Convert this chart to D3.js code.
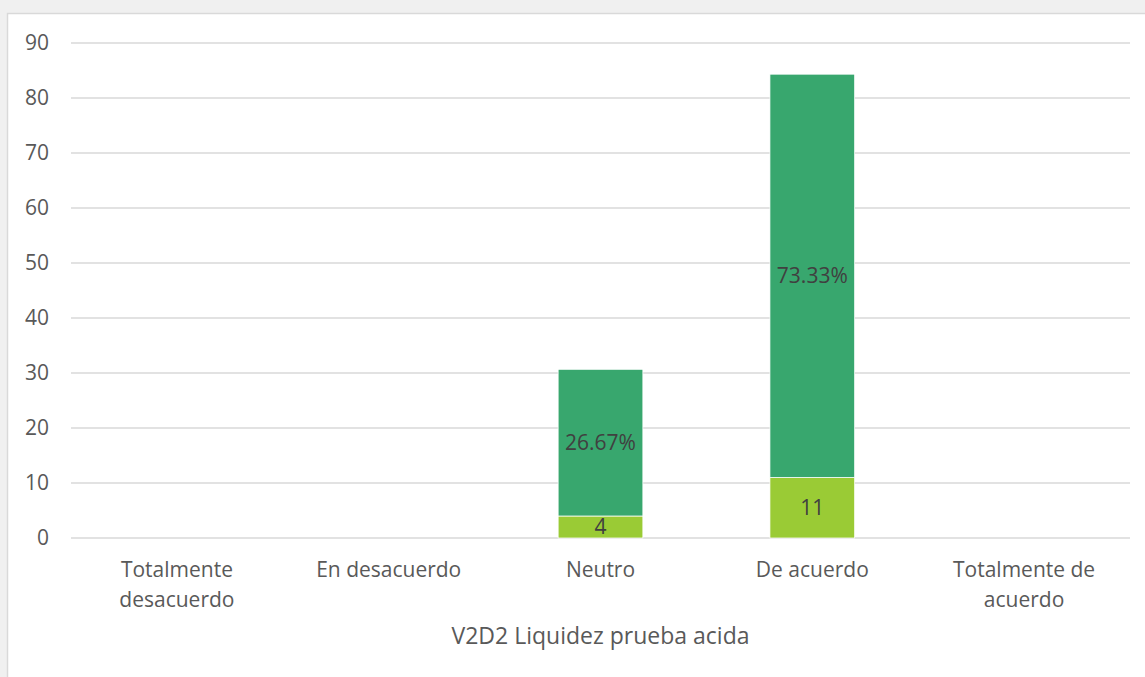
<!DOCTYPE html>
<html><head><meta charset="utf-8">
<script src="https://cdn.jsdelivr.net/npm/d3@7"></script>
<style>
html,body{margin:0;padding:0;background:#f0f0f0;}
svg{display:block;}
text{font-family:"Open Sans","Noto Sans",sans-serif;}
</style></head>
<body>
<script>
const categories = ["Totalmente desacuerdo","En desacuerdo","Neutro","De acuerdo","Totalmente de acuerdo"];
const countValues = [0, 0, 4, 11, 0];
const percentValues = [0, 0, 26.67, 73.33, 0];
const yTicks = [0,10,20,30,40,50,60,70,80,90];
const axisTitle = "V2D2 Liquidez prueba acida";

const W = 1145, H = 677;
const svg = d3.select("body").append("svg").attr("width", W).attr("height", H);
svg.append("rect").attr("x", 0).attr("y", 0).attr("width", W).attr("height", H).attr("fill", "#f0f0f0");
svg.append("rect").attr("x", 7.5).attr("y", 13.5).attr("width", W).attr("height", H)
  .attr("fill", "#ffffff").attr("stroke", "#d9d9d9").attr("stroke-width", 1.5);

const x = d3.scaleBand().domain(categories).range([71, 1130]).paddingInner(0.6).paddingOuter(0.3);
const y = d3.scaleLinear().domain([0, 90]).range([538, 43]);

// gridlines
svg.append("g").selectAll("line").data(yTicks).join("line")
  .attr("x1", 71).attr("x2", 1130)
  .attr("y1", d => y(d)).attr("y2", d => y(d))
  .attr("stroke", "#d9d9d9").attr("stroke-width", 1.5);

// y tick labels
svg.append("g").selectAll("text").data(yTicks).join("text")
  .attr("x", 49).attr("y", d => y(d)).attr("dy", "0.35em")
  .attr("text-anchor", "end").attr("font-size", 21).attr("fill", "#595959")
  .text(d => d);

const rows = categories.map((c, i) => ({cat: c, count: countValues[i], pct: percentValues[i]}));
const stack = d3.stack().keys(["count", "pct"])(rows);
const colors = {count: "#9acb35", pct: "#38a76e"};

stack.forEach(layer => {
  const g = svg.append("g");
  g.selectAll("rect").data(layer.filter(d => d[1] - d[0] > 0)).join("rect")
    .attr("x", d => x(d.data.cat))
    .attr("width", x.bandwidth())
    .attr("y", d => y(d[1]))
    .attr("height", d => y(d[0]) - y(d[1]))
    .attr("fill", colors[layer.key])
    .attr("stroke", "#ffffff").attr("stroke-width", 0.75);
  g.selectAll("text").data(layer.filter(d => d[1] - d[0] > 0)).join("text")
    .attr("x", d => x(d.data.cat) + x.bandwidth() / 2)
    .attr("y", d => (y(d[0]) + y(d[1])) / 2)
    .attr("dy", "0.35em").attr("text-anchor", "middle")
    .attr("font-size", 21).attr("fill", "#404040")
    .text(d => layer.key === "pct" ? d.data.pct.toFixed(2) + "%" : d.data.count);
});

// category labels (wrapped)
const wraps = {
  "Totalmente desacuerdo": ["Totalmente", "desacuerdo"],
  "En desacuerdo": ["En desacuerdo"],
  "Neutro": ["Neutro"],
  "De acuerdo": ["De acuerdo"],
  "Totalmente de acuerdo": ["Totalmente de", "acuerdo"]
};
const cg = svg.append("g");
categories.forEach(c => {
  const t = cg.append("text").attr("text-anchor", "middle").attr("font-size", 21).attr("fill", "#595959");
  wraps[c].forEach((line, i) => {
    t.append("tspan").attr("x", x(c) + x.bandwidth() / 2).attr("y", 570 + i * 30).attr("dy", "0.35em").text(line);
  });
});

svg.append("text").attr("x", (71 + 1130) / 2).attr("y", 636).attr("dy", "0.35em")
  .attr("text-anchor", "middle").attr("font-size", 23).attr("fill", "#595959").text(axisTitle);
</script>
</body></html>
